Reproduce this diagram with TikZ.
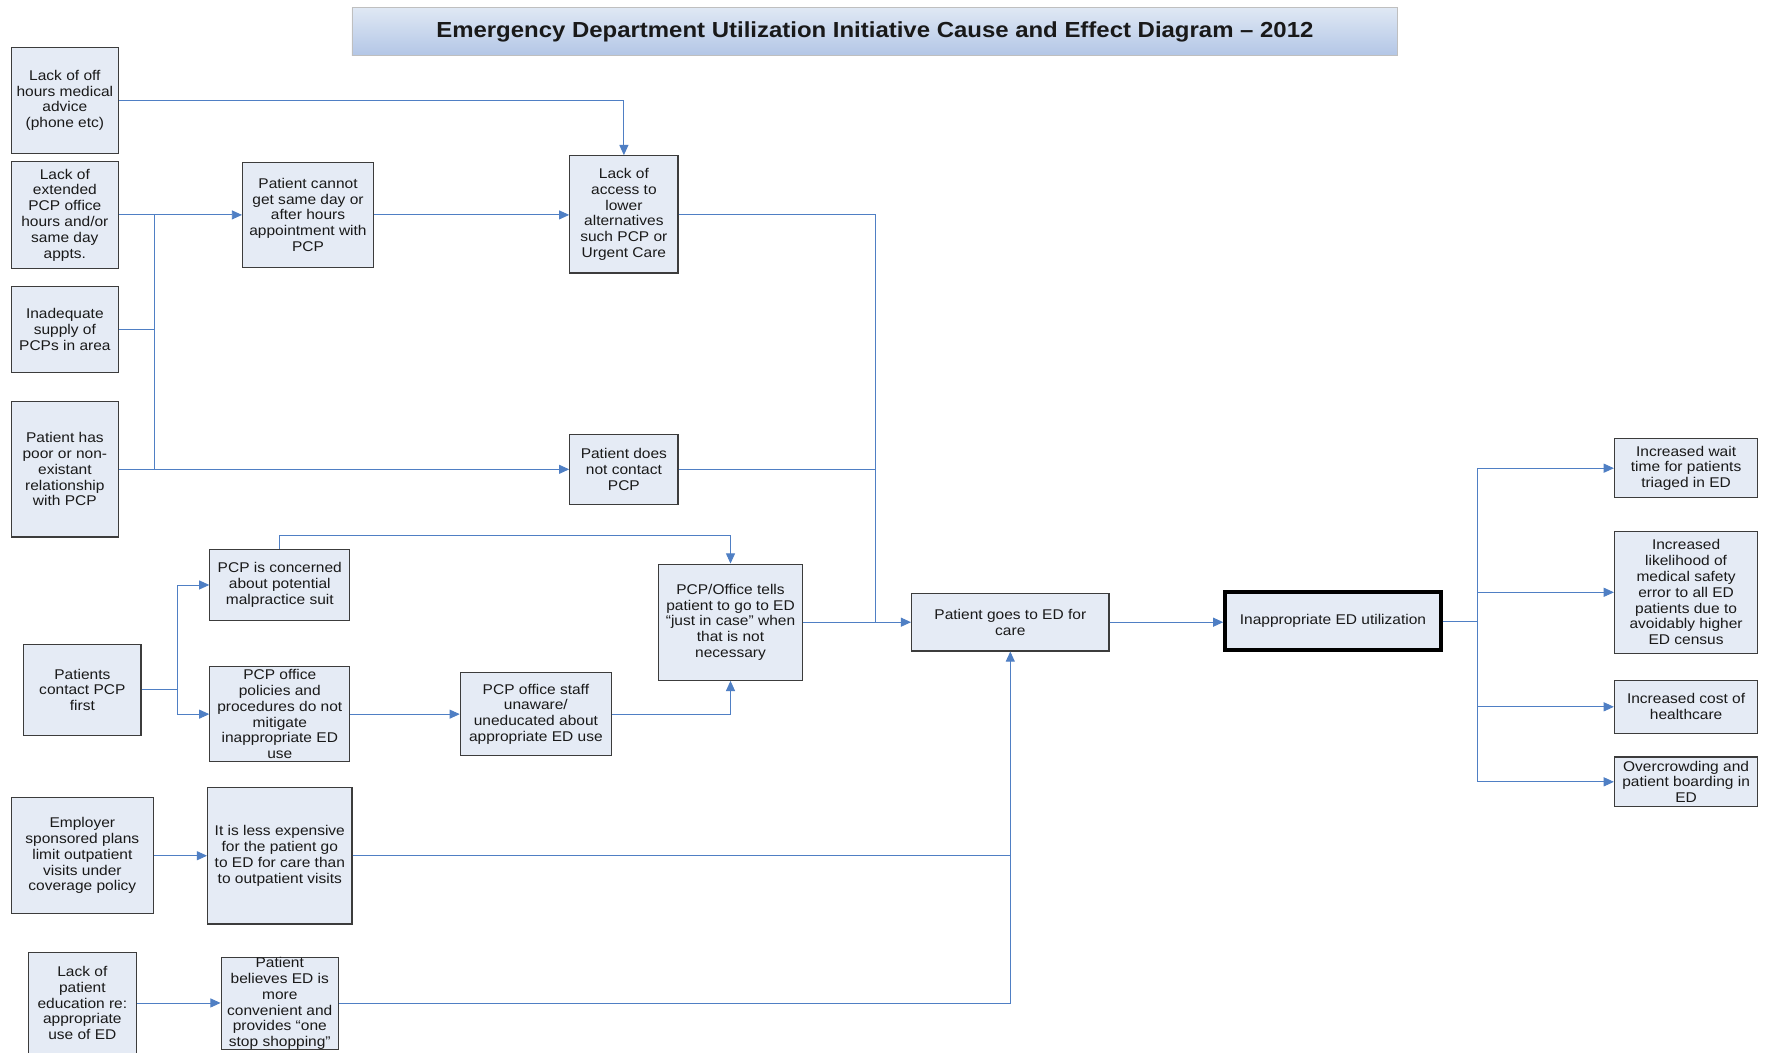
\documentclass[tikz,border=0pt]{standalone}
\usepackage{fontspec}
\setmainfont{Liberation Sans}[FakeStretch=1.1]
\usetikzlibrary{arrows.meta}
\definecolor{boxfill}{HTML}{E5EBF5}
\definecolor{boxline}{HTML}{3C3C3C}
\definecolor{conncol}{HTML}{4F7FC4}
\definecolor{ttop}{HTML}{DFE8F4}
\definecolor{tbot}{HTML}{B3C6E6}
\newcommand\mybox[7][]{%
  \pgfmathsetmacro\myw{#5-#3}%
  \pgfmathsetmacro\myh{#6-#4}%
  \pgfmathsetmacro\myx{(#3+#5)/2}%
  \pgfmathsetmacro\myy{-(#4+#6)/2}%
  \node[cbox,minimum width=\myw pt,minimum height=\myh pt,#1] (#2) at (\myx,\myy) {#7};%
}
\tikzset{
  cbox/.style={draw=boxline,line width=1pt,fill=boxfill,inner sep=0pt,align=center,
    font=\fontsize{12.5}{14}\selectfont,text=black!90},
  titlebox/.style={draw=black!25,line width=0.8pt,top color=ttop,bottom color=tbot,
    inner sep=0pt,font=\fontsize{19.3}{22}\selectfont\bfseries,text=black!90},
  thickbox/.style={line width=3.5pt,draw=black},
  line/.style={draw=conncol,line width=0.8pt},
  conn/.style={line,-{Triangle[length=9pt,width=8pt]}}
}
\begin{document}
\begin{tikzpicture}[x=1pt,y=1pt]
\useasboundingbox (0,0) rectangle (1568,-933);
\fill[white] (0,0) rectangle (1568,-933);
% title
\mybox[titlebox]{T}{312}{7}{1239}{49}{Emergency Department Utilization Initiative Cause and Effect Diagram – 2012}
% causes
\mybox{A}{10}{42}{105}{136}{Lack of off\\hours medical\\advice\\(phone etc)}
\mybox{B}{10}{143}{105}{238}{Lack of\\extended\\PCP office\\hours and/or\\same day\\appts.}
\mybox{C}{10}{254}{105}{330}{Inadequate\\supply of\\PCPs in area}
\mybox{D}{10}{356}{105}{476}{Patient has\\poor or non-\\existant\\relationship\\with PCP}
\mybox{E}{215}{144}{331}{237}{Patient cannot\\get same day or\\after hours\\appointment with\\PCP}
\mybox{F}{505}{138}{601}{242}{Lack of\\access to\\lower\\alternatives\\such PCP or\\Urgent Care}
\mybox{G}{505}{385}{601}{447}{Patient does\\not contact\\PCP}
\mybox{H}{186}{487}{310}{550}{PCP is concerned\\about potential\\malpractice suit}
\mybox{I}{21}{571}{125}{652}{Patients\\contact PCP\\first}
\mybox{J}{186}{591}{310}{675}{PCP office\\policies and\\procedures do not\\mitigate\\inappropriate ED\\use}
\mybox{K}{408}{596}{542}{670}{PCP office staff\\unaware/\\uneducated about\\appropriate ED use}
\mybox{L}{584}{500}{711}{603}{PCP/Office tells\\patient to go to ED\\“just in case” when\\that is not\\necessary}
\mybox{M}{808}{526}{983}{577}{Patient goes to ED for\\care}
\mybox[thickbox]{N}{1086}{525}{1277}{576}{Inappropriate ED utilization}
\mybox{O}{10}{707}{136}{810}{Employer\\sponsored plans\\limit outpatient\\visits under\\coverage policy}
\mybox{P}{184}{698}{312}{819}{It is less expensive\\for the patient go\\to ED for care than\\to outpatient visits}
\mybox{Q}{25}{844}{121}{934}{Lack of\\patient\\education re:\\appropriate\\use of ED}
\mybox{R}{196}{849}{300}{930}{Patient\\believes ED is\\more\\convenient and\\provides “one\\stop shopping”}
% effects
\mybox{S1}{1431}{389}{1558}{441}{Increased wait\\time for patients\\triaged in ED}
\mybox{S2}{1431}{471}{1558}{579}{Increased\\likelihood of\\medical safety\\error to all ED\\patients due to\\avoidably higher\\ED census}
\mybox{S3}{1431}{603}{1558}{650}{Increased cost of\\healthcare}
\mybox{S4}{1431}{671}{1558}{715}{Overcrowding and\\patient boarding in\\ED}
% junction coordinates
\coordinate (j1) at (137,-190.5);
\coordinate (j2) at (776,-551.5);
\coordinate (j3) at (157,-611.5);
\coordinate (j4) at (1310,-550.5);
% connectors
\draw[conn] (A.east) -| (F.north);
\draw[conn] (B.east) -- (B.east -| E.west);
\draw[line] (C.east) -- (C.east -| j1);
\draw[line] (j1) -- (j1 |- D.east);
\draw[conn] (D.east) -- (D.east -| G.west);
\draw[conn] (E.east) -- (E.east -| F.west);
\draw[line] (F.east) -| (j2);
\draw[line] (G.east) -| (j2);
\draw[conn] (L.east) -- (L.east -| M.west);
\draw[conn] (H.north) -- ++(0,12) -| (L.north);
\draw[line] (I.east) -- (j3);
\draw[conn] (j3) |- (H.west);
\draw[conn] (j3) |- (J.west);
\draw[conn] (J.east) -- (J.east -| K.west);
\draw[conn] (K.east) -| (L.south);
\draw[conn] (O.east) -- (O.east -| P.west);
\draw[conn] (P.east) -| (M.south);
\draw[line] (R.east) -- (R.east -| M.south) -- (P.east -| M.south);
\draw[conn] (Q.east) -- (Q.east -| R.west);
\draw[conn] (M.east) -- (M.east -| N.west);
\draw[line] (N.east) -- (j4);
\draw[conn] (j4) |- (S1.west);
\draw[conn] (j4) |- (S2.west);
\draw[conn] (j4) |- (S3.west);
\draw[conn] (j4) |- (S4.west);
\end{tikzpicture}
\end{document}
